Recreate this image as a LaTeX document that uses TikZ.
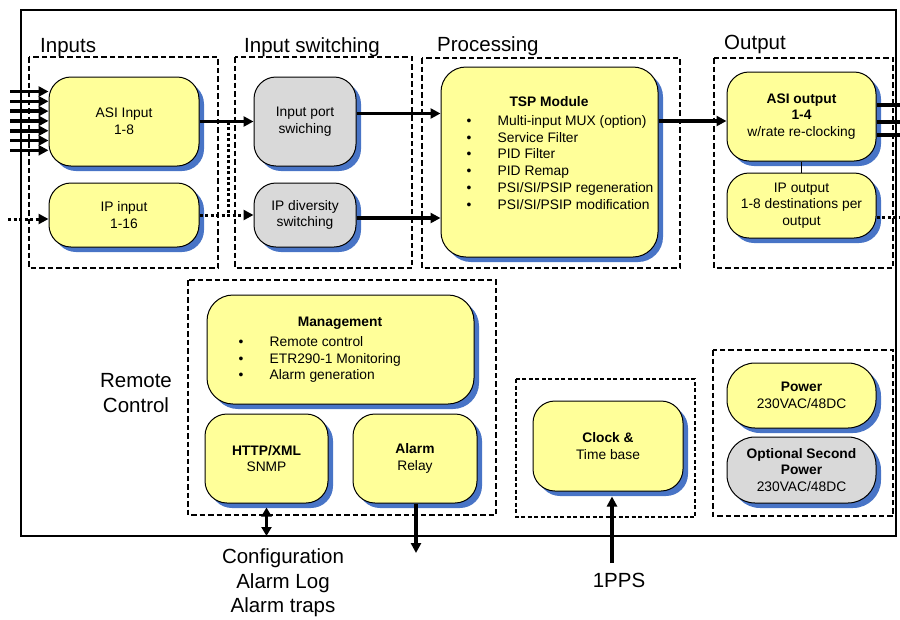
\documentclass[tikz,border=0pt]{standalone}
\usepackage{fontspec}
\setmainfont{Liberation Sans}
\usetikzlibrary{arrows.meta,shadows,calc}

\definecolor{boxyellow}{RGB}{255,255,153}
\definecolor{boxgray}{RGB}{217,217,217}
\definecolor{shadeblue}{RGB}{72,116,198}

\tikzset{
  module/.style={draw=black, line width=1pt, fill=boxyellow,
    rounded corners=#1, align=center, inner sep=0pt,
    font=\fontsize{13.8}{16.8}\selectfont,
    drop shadow={shadow xshift=5pt, shadow yshift=-5pt,
      fill=shadeblue, opacity=1}},
  module/.default=22pt,
  grey/.style={fill=boxgray},
  plaintext/.style={inner sep=0pt, align=left,
    font=\fontsize{13.8}{16.8}\selectfont},
  heading/.style={inner sep=0pt, font=\fontsize{20.5}{24.5}\selectfont},
  group/.style={draw=black, line width=2.2pt, dash pattern=on 5.5pt off 3pt},
  thingroup/.style={draw=black, line width=1.5pt, dash pattern=on 4pt off 2.5pt},
  frame/.style={draw=black, line width=1.5pt},
  bigarrow/.style={line width=3.6pt, -{Triangle[length=10pt,width=10pt]}},
  bigline/.style={line width=3.6pt},
  dotline/.style={line width=3pt, dash pattern=on 3pt off 2.5pt},
  dotarrow/.style={dotline, -{Triangle[length=10pt,width=10pt]}},
}
\newcommand{\itm}{\makebox[31pt][l]{\textbullet}}

\begin{document}
\begin{tikzpicture}[x=1pt,y=-1pt]
\useasboundingbox (0,0) rectangle (900,619);

% outer enclosure
\draw[frame] (21,10) rectangle (896,536);

% functional groups
\draw[group] (29,57) rectangle (218,268);
\draw[group] (235,57) rectangle (412,268);
\draw[group] (422,58) rectangle (680,268);
\draw[group] (714,58) rectangle (893,268);
\draw[group] (188,280) rectangle (496,515);
\draw[thingroup] (516,379) rectangle (695,517);
\draw[group] (713,350) rectangle (893,516);

% group headings
\node[heading, anchor=base west] (hin) at (40,52) {Inputs};
\node[heading, anchor=base west] (hsw) at (244,52) {Input switching};
\node[heading, anchor=base west] (hproc) at (437,51) {Processing};
\node[heading, anchor=base west] (hout) at (724,49) {Output};
\node[heading, align=center] (hrc) at (136,393) {Remote\\Control};

% modules
\node[module, minimum width=150pt, minimum height=89pt] (asiin) at (124,121.5) {ASI Input\\1-8};
\node[module, minimum width=150pt, minimum height=64pt] (ipin) at (124,215) {IP input\\1-16};
\node[module, grey, minimum width=102pt, minimum height=89pt] (insw) at (305,121.5) {Input port\\swiching};
\node[module, grey, minimum width=102pt, minimum height=64pt] (ipdiv) at (305,215) {IP diversity\\switching};
\node[module=25pt, minimum width=217pt, minimum height=190pt] (tsp) at (549.5,162) {};
\node[module, minimum width=149pt, minimum height=89pt] (asiout) at (801.5,116.5) {\textbf{ASI output}\\\textbf{1-4}\\w/rate re-clocking};
\node[module, minimum width=149pt, minimum height=65pt] (ipout) at (801.5,205.5) {IP output\\1-8 destinations per\\output};
\node[module=26pt, minimum width=267pt, minimum height=109pt] (mgmt) at (340.5,349.5) {};
\node[module, minimum width=123pt, minimum height=89pt] (http) at (266.5,458.5) {\textbf{HTTP/XML}\\SNMP};
\node[module, minimum width=124pt, minimum height=89pt] (alarm) at (415,458.5) {\textbf{Alarm}\\Relay};
\node[module, minimum width=150pt, minimum height=90pt] (clock) at (608,446) {\textbf{Clock \&}\\Time base};
\node[module=28pt, minimum width=149pt, minimum height=65pt] (power) at (801.5,395.5) {\textbf{Power}\\230VAC/48DC};
\node[module=28pt, grey, minimum width=149pt, minimum height=66pt] (power2) at (801.5,470) {\textbf{Optional Second}\\\textbf{Power}\\230VAC/48DC};

% module contents with bullet lists
\node[plaintext] (tsptitle) at (549,102) {\textbf{TSP Module}};
\node[plaintext, anchor=north west] (tsplist) at (466.5,115) {%
  \itm Multi-input MUX (option)\\
  \itm Service Filter\\
  \itm PID Filter\\
  \itm PID Remap\\
  \itm PSI/SI/PSIP regeneration\\
  \itm PSI/SI/PSIP modification};
\node[plaintext] (mgmttitle) at (340,323) {\textbf{Management}};
\node[plaintext, anchor=north west] (mgmtlist) at (238.5,336) {%
  \itm Remote control\\
  \itm ETR290-1 Monitoring\\
  \itm Alarm generation};

% ASI inputs
\foreach \k in {0,...,6} {
  \coordinate (in\k) at (10,91.5+9.8*\k);
  \draw[bigarrow] (in\k) -- (in\k -| asiin.west);
}
% IP input
\coordinate (ipsrc) at (8,219);
\draw[dotarrow] (ipsrc) -- (ipsrc -| ipin.west);

% inputs to switching
\draw[bigarrow] (asiin) -- (insw);
\draw[dotarrow] (ipin) -- (ipdiv);
\coordinate (j1) at (228,121.5);
\coordinate (j2) at (228,215);
\draw[dotline] (j1) -- (j2);

% switching to processing
\coordinate (s1) at ([yshift=8pt]insw.east);
\draw[bigarrow] (s1) -- (s1 -| tsp.west);
\coordinate (s2) at ([yshift=-3pt]ipdiv.east);
\draw[bigarrow] (s2) -- (s2 -| tsp.west);

% processing to output
\coordinate (p1) at ([yshift=-4.5pt]asiout.west);
\draw[bigarrow] (p1 -| tsp.east) -- (p1);
\draw[line width=1pt] (asiout.south) -- (ipout.north);

% outputs
\foreach \dy/\n in {11.5/a,-5.5/b,-18.5/c} {
  \coordinate (o\n) at ([yshift=\dy pt]asiout.east);
  \coordinate (e\n) at (900,0);
  \draw[bigline] (o\n) -- (o\n -| e\n);
}
\coordinate (oip) at ([yshift=-11.5pt]ipout.east);
\coordinate (eip) at (900,0);
\draw[dotline] (oip) -- (oip -| eip);

% management interfaces
\coordinate (hb) at ([yshift=-4pt]http.south);
\coordinate (he) at (266.5,536);
\draw[line width=3.6pt, {Triangle[length=9pt,width=10pt]}-{Triangle[length=9pt,width=10pt]}] (hb) -- (he);
\coordinate (ae) at (416,553);
\draw[bigarrow] (alarm.south -| ae) -- (ae);

% 1PPS reference
\coordinate (pps) at (612,563);
\coordinate (ppsend) at ([yshift=-5pt]clock.south);
\draw[bigarrow] (pps) -- (pps |- ppsend);

% external labels
\node[heading, align=center] (cfg) at (283,583) {Configuration\\Alarm Log\\Alarm traps};
\node[heading] (ppslbl) at (619,580) {1PPS};
\end{tikzpicture}
\end{document}
